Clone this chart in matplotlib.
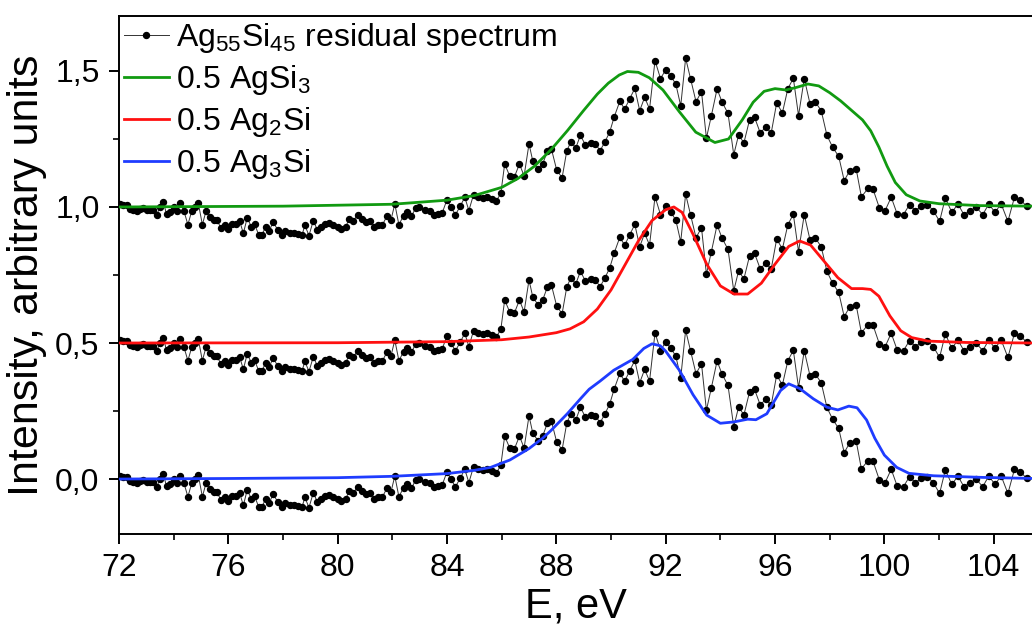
import matplotlib
matplotlib.use("Agg")
import matplotlib.pyplot as plt
from matplotlib.ticker import MultipleLocator, FuncFormatter

plt.rcParams['font.family'] = ['Liberation Sans', 'DejaVu Sans']
plt.rcParams['mathtext.default'] = 'regular'

# residual spectrum (offset 0)
energia = [72.04, 72.16, 72.28, 72.40, 72.52, 72.65, 72.77, 72.89, 73.01, 73.13,
           73.26, 73.38, 73.50, 73.62, 73.74, 73.86, 74.01, 74.13, 74.25, 74.38,
           74.52, 74.66, 74.78, 74.90, 75.05, 75.19, 75.34, 75.46, 75.58, 75.73,
           75.88, 76.00, 76.14, 76.27, 76.41, 76.55, 76.69, 76.84, 76.96, 77.11,
           77.23, 77.37, 77.50, 77.64, 77.80, 77.95, 78.09, 78.25, 78.41, 78.56,
           78.70, 78.80, 78.95, 79.11, 79.25, 79.39, 79.53, 79.68, 79.84, 80.00,
           80.14, 80.29, 80.42, 80.57, 80.73, 80.90, 81.04, 81.19, 81.34, 81.48,
           81.63, 81.80, 81.95, 82.09, 82.24, 82.41, 82.55, 82.70, 82.85, 82.99,
           83.21, 83.36, 83.51, 83.68, 83.82, 84.00, 84.14, 84.31, 84.48, 84.65,
           84.80, 84.97, 85.14, 85.31, 85.47, 85.63, 85.80, 85.97, 86.11, 86.29,
           86.46, 86.65, 86.82, 87.00, 87.14, 87.33, 87.50, 87.67, 87.82, 88.01,
           88.21, 88.38, 88.53, 88.71, 88.88, 89.06, 89.25, 89.43, 89.60, 89.77,
           89.95, 90.12, 90.32, 90.50, 90.68, 90.87, 91.05, 91.23, 91.41, 91.61,
           91.81, 92.00, 92.18, 92.37, 92.55, 92.73, 92.91, 93.11, 93.31, 93.49,
           93.67, 93.88, 94.06, 94.28, 94.49, 94.67, 94.86, 95.07, 95.25, 95.46,
           95.66, 95.86, 96.06, 96.27, 96.47, 96.67, 96.86, 97.07, 97.28, 97.48,
           97.69, 97.90, 98.11, 98.33, 98.53, 98.74, 98.97, 99.16, 99.40, 99.58,
           99.82, 100.03, 100.25, 100.47, 100.70, 100.92, 101.13, 101.35, 101.57, 101.79,
           102.02, 102.23, 102.47, 102.69, 102.91, 103.14, 103.36, 103.60, 103.82, 104.05,
           104.27, 104.52, 104.76, 104.98, 105.21]
residuo = [0.011, 0.009, 0.006, -0.006, -0.012, -0.013, -0.009, -0.004, -0.011, -0.011,
           -0.011, -0.028, -0.001, 0.018, -0.026, -0.020, -0.001, -0.016, 0.013, -0.016,
           -0.065, -0.016, -0.001, 0.015, -0.065, -0.013, -0.038, -0.048, -0.048, -0.077,
           -0.067, -0.080, -0.063, -0.063, -0.050, -0.097, -0.040, -0.072, -0.063, -0.102,
           -0.102, -0.072, -0.087, -0.055, -0.083, -0.102, -0.087, -0.097, -0.094, -0.099,
           -0.102, -0.067, -0.105, -0.050, -0.083, -0.075, -0.063, -0.060, -0.067, -0.075,
           -0.082, -0.075, -0.043, -0.050, -0.031, -0.044, -0.056, -0.050, -0.072, -0.067,
           -0.067, -0.034, -0.048, 0.011, -0.065, -0.032, -0.017, -0.034, -0.004, -0.001,
           -0.012, -0.013, -0.031, -0.024, -0.023, 0.027, -0.001, -0.028, 0.002, 0.036,
           -0.013, 0.045, 0.038, 0.033, 0.038, 0.028, 0.021, 0.051, 0.158, 0.115,
           0.109, 0.158, 0.114, 0.232, 0.168, 0.141, 0.158, 0.205, 0.213, 0.137,
           0.107, 0.205, 0.240, 0.217, 0.263, 0.229, 0.235, 0.232, 0.207, 0.238,
           0.275, 0.332, 0.388, 0.360, 0.397, 0.436, 0.354, 0.403, 0.360, 0.538,
           0.472, 0.504, 0.482, 0.452, 0.372, 0.547, 0.471, 0.387, 0.424, 0.253,
           0.335, 0.434, 0.386, 0.344, 0.192, 0.266, 0.235, 0.321, 0.330, 0.272,
           0.294, 0.272, 0.382, 0.346, 0.435, 0.473, 0.336, 0.472, 0.379, 0.385,
           0.354, 0.263, 0.219, 0.186, 0.097, 0.134, 0.139, 0.037, 0.068, 0.067,
           -0.004, -0.013, 0.036, -0.026, -0.028, 0.009, -0.013, 0.002, 0.009, -0.013,
           -0.053, 0.033, -0.020, 0.011, -0.028, -0.013, -0.001, -0.028, 0.011, -0.020,
           0.012, -0.053, 0.036, 0.026, 0.002]
desplazamientos = [0.0, 0.5, 1.0]

# model curves (already shifted as in the picture)
e_agsi3 = [72.0, 78.0, 82.0, 84.0, 85.0, 86.0, 86.6, 87.2, 87.8, 88.4, 89.0, 89.5,
           89.9, 90.3, 90.6, 91.0, 91.4, 91.9, 92.5, 93.1, 93.8, 94.3, 94.8, 95.2,
           95.6, 96.0, 96.4, 96.8, 97.2, 97.6, 98.0, 98.4, 98.8, 99.2, 99.5, 99.8,
           100.1, 100.4, 100.8, 101.3, 102.0, 103.5, 105.5]
v_agsi3 = [1.000, 1.003, 1.010, 1.025, 1.042, 1.072, 1.105, 1.150, 1.210, 1.280, 1.355, 1.415,
           1.455, 1.485, 1.498, 1.495, 1.475, 1.430, 1.350, 1.275, 1.237, 1.250, 1.320, 1.385,
           1.425, 1.435, 1.430, 1.440, 1.452, 1.445, 1.420, 1.390, 1.355, 1.320, 1.280, 1.220,
           1.150, 1.090, 1.045, 1.022, 1.012, 1.005, 1.003]

e_ag2si = [72.0, 80.0, 84.0, 86.0, 87.0, 88.0, 88.5, 89.0, 89.5, 90.0, 90.5, 91.0,
           91.5, 92.0, 92.3, 92.6, 93.0, 93.5, 94.0, 94.5, 95.0, 95.5, 96.0, 96.5,
           96.9, 97.3, 97.8, 98.3, 98.8, 99.2, 99.5, 99.8, 100.2, 100.6, 101.0, 101.6,
           103.0, 105.5]
v_ag2si = [0.500, 0.501, 0.505, 0.512, 0.522, 0.538, 0.552, 0.578, 0.625, 0.695, 0.785, 0.875,
           0.950, 0.990, 1.000, 0.980, 0.900, 0.790, 0.710, 0.680, 0.680, 0.720, 0.790, 0.855,
           0.875, 0.860, 0.800, 0.740, 0.700, 0.700, 0.697, 0.672, 0.600, 0.545, 0.520, 0.507,
           0.502, 0.500]

e_ag3si = [72.0, 76.0, 80.0, 82.0, 84.0, 85.0, 85.6, 86.3, 87.0, 87.5, 87.8, 88.4,
           88.9, 89.2, 89.6, 90.1, 90.8, 91.2, 91.5, 91.8, 92.0, 92.5, 93.0, 93.5,
           94.0, 94.5, 95.0, 95.3, 95.7, 96.2, 96.5, 96.9, 97.4, 97.9, 98.3, 98.7,
           99.0, 99.35, 99.65, 100.0, 100.45, 100.9, 101.8, 103.6, 105.5]
v_ag3si = [0.000, 0.002, 0.005, 0.010, 0.020, 0.032, 0.043, 0.070, 0.112, 0.150, 0.178, 0.240,
           0.297, 0.330, 0.360, 0.400, 0.440, 0.480, 0.497, 0.490, 0.470, 0.400, 0.310, 0.235,
           0.205, 0.210, 0.220, 0.218, 0.240, 0.325, 0.350, 0.333, 0.295, 0.264, 0.254, 0.268,
           0.262, 0.217, 0.150, 0.088, 0.043, 0.021, 0.012, 0.006, 0.002]

# figure
fig = plt.figure(figsize=(10.32, 6.37), dpi=100)
ax = fig.add_axes([0.1153, 0.1617, 0.8860, 0.8132])

for i, d in enumerate(desplazamientos):
    ax.plot(energia, [r + d for r in residuo], color='#333333', lw=0.7,
            marker='o', markersize=4.3, markerfacecolor='black',
            markeredgecolor='black', zorder=2,
            label=r'Ag$_{55}$Si$_{45}$ residual spectrum' if i == 0 else None)

ax.plot(e_agsi3, v_agsi3, color='#119a11', lw=2.0, zorder=3, label=r'0.5 AgSi$_3$')
ax.plot(e_ag2si, v_ag2si, color='#ff1010', lw=2.0, zorder=3, label=r'0.5 Ag$_2$Si')
ax.plot(e_ag3si, v_ag3si, color='#1f3cff', lw=2.0, zorder=3, label=r'0.5 Ag$_3$Si')

ax.set_xlim(72, 105.45)
ax.set_ylim(-0.202, 1.702)
ax.spines['right'].set_visible(False)
for s in ['left', 'bottom', 'top']:
    ax.spines[s].set_linewidth(1.4)

ax.xaxis.set_major_locator(MultipleLocator(4))
ax.xaxis.set_minor_locator(MultipleLocator(2))
ax.yaxis.set_major_locator(MultipleLocator(0.5))
ax.yaxis.set_minor_locator(MultipleLocator(0.25))
ax.yaxis.set_major_formatter(FuncFormatter(lambda v, p: f"{v:.1f}".replace('.', ',')))
ax.tick_params(which='major', direction='out', length=7, width=1.4,
               labelsize=23, pad=7, top=False, right=False)
ax.tick_params(which='minor', direction='out', length=4, width=1.2,
               top=False, right=False)
for lab in ax.get_xticklabels() + ax.get_yticklabels():
    lab.set_family(['Liberation Sans Narrow', 'Liberation Sans', 'DejaVu Sans'])

ax.set_xlabel('E, eV', fontsize=30, labelpad=2)
ax.set_ylabel('Intensity, arbitrary units', fontsize=31, labelpad=6)

ax.legend(loc='upper left', frameon=False, fontsize=23, handlelength=1.4,
          handletextpad=0.25, labelspacing=0.25, borderaxespad=0.1,
          borderpad=0.05)

fig.savefig('out.png', dpi=100)
